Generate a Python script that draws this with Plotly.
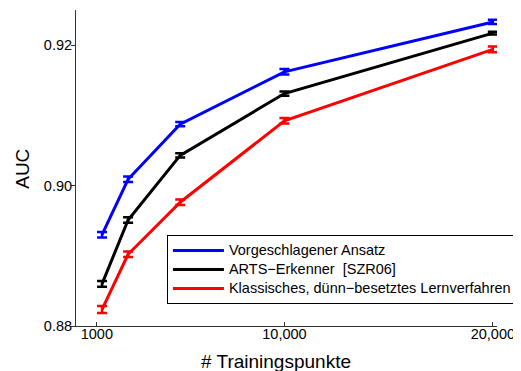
import plotly.graph_objects as go

x_points = [1250, 2500, 5000, 10000, 20000]
series_names = ["Vorgeschlagener Ansatz", "ARTS\u2212Erkenner \u00a0[SZR06]",
                "Klassisches, dünn\u2212besetztes Lernverfahren"]
blue_auc = [0.8930, 0.9009, 0.90875, 0.9162, 0.9233]
black_auc = [0.8860, 0.8951, 0.9043, 0.9131, 0.9217]
red_auc = [0.88236, 0.89021, 0.89763, 0.90922, 0.91939]
blue_err = [0.0004, 0.0004, 0.0003, 0.0004, 0.0003]
black_err = [0.0004, 0.0004, 0.0003, 0.0003, 0.0002]
red_err = [0.0005, 0.0004, 0.0004, 0.0004, 0.0004]
colors = ["#0000ff", "#000000", "#ff0000"]

x_tickvals = [1000, 10000, 20000]
x_ticktext = ["1000", "10,000", "20,000"]
y_tickvals = [0.88, 0.90, 0.92]
y_ticktext = ["0.88", "0.90", "0.92"]
x_title = "# Trainingspunkte"
y_title = "AUC"

fig = go.Figure()
for name, vals, errs, col in zip(series_names, [blue_auc, black_auc, red_auc],
                                 [blue_err, black_err, red_err], colors):
    fig.add_trace(go.Scatter(
        x=x_points, y=vals, mode="lines",
        name="<span style='font-size:14.5px'>" + name + "</span>",
        line=dict(color=col, width=3),
        error_y=dict(type="data", array=errs, visible=True,
                     color=col, thickness=2.5, width=5),
    ))

font_family = "Liberation Sans, Arial, sans-serif"
fig.update_layout(
    width=521, height=371,
    margin=dict(l=68, r=32, t=2, b=53, autoexpand=False),
    paper_bgcolor="white", plot_bgcolor="white",
    font=dict(family=font_family, size=14, color="#000"),
    showlegend=True,
    legend=dict(x=0.216, y=0.288, xanchor="left", yanchor="top",
                bgcolor="white", bordercolor="#000", borderwidth=1,
                font=dict(size=11, family=font_family),
                tracegroupgap=0, itemwidth=51),
    xaxis=dict(range=[0, 20200], tickvals=x_tickvals, ticktext=x_ticktext,
               automargin=False, ticklabelstandoff=-5,
               showgrid=False, zeroline=False, showline=True, linecolor="#333",
               linewidth=1, ticks="inside", ticklen=4, tickcolor="#333",
               tickfont=dict(size=14.5)),
    yaxis=dict(range=[0.88, 0.925], tickvals=y_tickvals, ticktext=y_ticktext,
               automargin=False, ticklabelstandoff=-4,
               showgrid=False, zeroline=False, showline=True, linecolor="#333",
               linewidth=1, ticks="outside", ticklen=4, tickcolor="#333",
               tickfont=dict(size=14.5)),
    annotations=[
        dict(text=x_title, xref="paper", yref="paper", x=0.476, y=-0.111,
             xanchor="center", yanchor="middle", showarrow=False,
             font=dict(size=19, family=font_family)),
        dict(text=y_title, xref="paper", yref="paper", x=-0.127, y=0.496,
             xanchor="center", yanchor="middle", showarrow=False, textangle=-90,
             font=dict(size=19, family=font_family)),
    ],
)

fig.write_html("out.html")
